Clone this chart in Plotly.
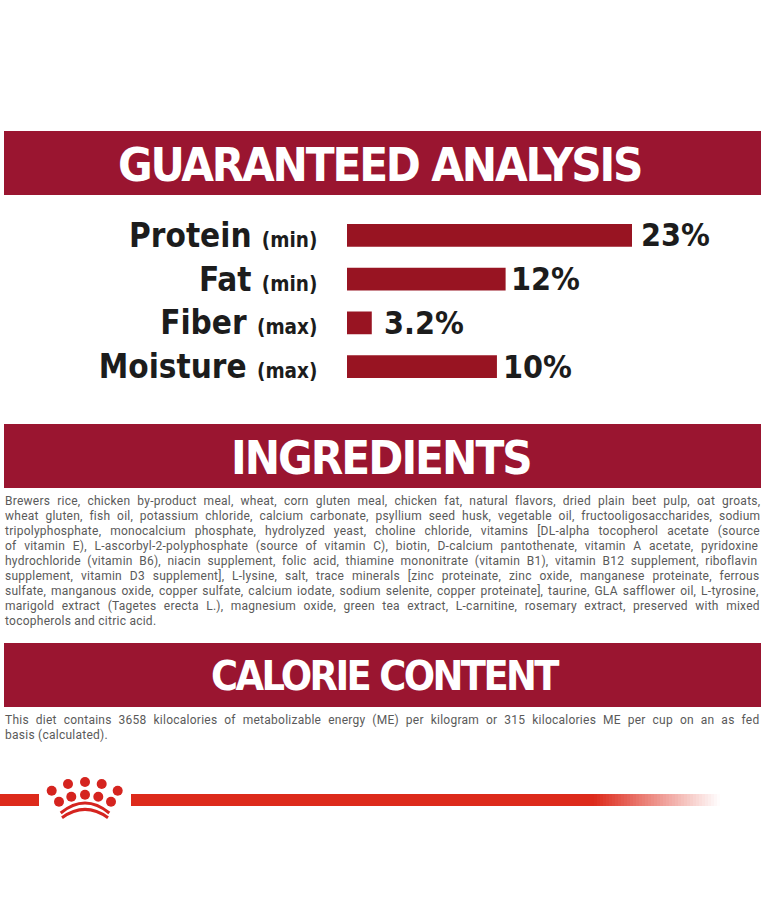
import plotly.graph_objects as go

W, H = 765, 900

# values as printed, and bar lengths as drawn (the artwork is not to scale)
nutrients = ['Protein', 'Fat', 'Fiber', 'Moisture']
limits = ['(min)', '(min)', '(max)', '(max)']
printed = ['23%', '12%', '3.2%', '10%']
bar_lengths = [23, 12.8, 2.0, 12.1]

headers = ['GUARANTEED ANALYSIS', 'INGREDIENTS', 'CALORIE CONTENT']

ingredients = [
    'Brewers rice, chicken by-product meal, wheat, corn gluten meal, chicken fat, natural flavors, dried plain beet pulp, oat groats,',
    'wheat gluten, fish oil, potassium chloride, calcium carbonate, psyllium seed husk, vegetable oil, fructooligosaccharides, sodium',
    'tripolyphosphate, monocalcium phosphate, hydrolyzed yeast, choline chloride, vitamins [DL-alpha tocopherol acetate (source',
    'of vitamin E), L-ascorbyl-2-polyphosphate (source of vitamin C), biotin, D-calcium pantothenate, vitamin A acetate, pyridoxine',
    'hydrochloride (vitamin B6), niacin supplement, folic acid, thiamine mononitrate (vitamin B1), vitamin B12 supplement, riboflavin',
    'supplement, vitamin D3 supplement], L-lysine, salt, trace minerals [zinc proteinate, zinc oxide, manganese proteinate, ferrous',
    'sulfate, manganous oxide, copper sulfate, calcium iodate, sodium selenite, copper proteinate], taurine, GLA safflower oil, L-tyrosine,',
    'marigold extract (Tagetes erecta L.), magnesium oxide, green tea extract, L-carnitine, rosemary extract, preserved with mixed',
    'tocopherols and citric acid.',
]
calories = [
    'This diet contains 3658 kilocalories of metabolizable energy (ME) per kilogram or 315 kilocalories ME per cup on an as fed',
    'basis (calculated).',
]

# extra word spacing (px) so the lines come out justified like the artwork
ingredient_gaps = [3.8, 3.5, 5.7, 4.4, 3.3, 4.6, 1.7, 4.2, 0]
calorie_gaps = [3.7, 0]

# per header: centre x, font size, letter spacing
header_styles = [(379, 47, -2.2), (381, 47, -2.0), (385, 41, -2.6)]
label_shifts = [7, 3, 10, 4]

CRIMSON = '#9a1530'
BAR = '#981422'
LINE = '#dd2a1b'
LOGO = '#d5241f'
INK = '#1c1c1c'
BODY = '#5a5a5a'
HEAD_FONT = 'DejaVu Sans Condensed, Roboto, sans-serif'


def fx(x):
    return x / W


def fy(y):
    return 1 - y / H


def body_line(text, y, gap):
    return dict(text=f'<span style="letter-spacing:0.25px;word-spacing:{gap}px">{text}</span>',
                x=fx(3), y=fy(y), xref='paper', yref='paper', showarrow=False,
                xanchor='left', yanchor='middle', font=dict(family='Roboto', size=12, color=BODY))


fig = go.Figure()
fig.add_trace(go.Bar(
    y=nutrients,
    x=bar_lengths,
    orientation='h',
    marker=dict(color=BAR, line=dict(width=0)),
    width=0.52,
    hoverinfo='skip',
))

shapes = []
annotations = []

# crimson header bands
for top, label, (centre, size, track) in zip([131, 424, 643], headers, header_styles):
    shapes.append(dict(type='rect', xref='paper', yref='paper', x0=fx(4), x1=fx(761),
                       y0=fy(top), y1=fy(top + 64), fillcolor=CRIMSON, line_width=0, layer='below'))
    annotations.append(dict(text=f'<span style="letter-spacing:{track}px">{label}</span>',
                            x=fx(centre), y=fy(top + 33), xref='paper', yref='paper',
                            showarrow=False, xanchor='center', yanchor='middle',
                            font=dict(family=HEAD_FONT, size=size, color='white', weight=700)))

# printed values next to the bars
for name, length, label, shift in zip(nutrients, bar_lengths, printed, label_shifts):
    annotations.append(dict(text=label, x=length, y=name, xref='x', yref='y', xshift=shift,
                            showarrow=False, xanchor='left', yanchor='middle',
                            font=dict(family=HEAD_FONT, size=32, color=INK, weight=700)))

# body copy, one line at a time
for i, (line, gap) in enumerate(zip(ingredients, ingredient_gaps)):
    annotations.append(body_line(line, 501 + i * 15.03, gap))
for i, (line, gap) in enumerate(zip(calories, calorie_gaps)):
    annotations.append(body_line(line, 720 + i * 15, gap))

# red rule with the fade on the right
shapes.append(dict(type='rect', xref='paper', yref='paper', x0=fx(0), x1=fx(39), y0=fy(794), y1=fy(806),
                   fillcolor=LINE, line_width=0))
shapes.append(dict(type='rect', xref='paper', yref='paper', x0=fx(131), x1=fx(594), y0=fy(794), y1=fy(806),
                   fillcolor=LINE, line_width=0))
steps = 42
for s in range(steps):
    shapes.append(dict(type='rect', xref='paper', yref='paper',
                       x0=fx(594 + s * 3), x1=fx(594 + (s + 1) * 3), y0=fy(794), y1=fy(806),
                       fillcolor=LINE, opacity=1 - (s + 0.5) / steps, line_width=0))

# crown logo
dots = [(51.7, 790.7), (68, 784), (85, 782), (101.7, 784), (117.7, 790.7),
        (59, 801.7), (71.3, 796.7), (85, 794.7), (98.3, 796.7), (111, 801.7)]
for cx, cy in dots:
    shapes.append(dict(type='circle', xref='paper', yref='paper', x0=fx(cx - 5), x1=fx(cx + 5),
                       y0=fy(cy - 5), y1=fy(cy + 5), fillcolor=LOGO, line_width=0))
for x0, x1, ctrl, end in [(60.7, 109.3, 793, 813), (62, 108, 801, 817.7)]:
    shapes.append(dict(type='path', xref='paper', yref='paper', line=dict(color=LOGO, width=3),
                       path=f'M {fx(x0)} {fy(end)} Q {fx(85)} {fy(ctrl)} {fx(x1)} {fy(end)}'))

fig.update_layout(
    width=W,
    height=H,
    margin=dict(l=0, r=0, t=0, b=0),
    paper_bgcolor='white',
    plot_bgcolor='white',
    showlegend=False,
    shapes=shapes,
    annotations=annotations,
    xaxis=dict(domain=[fx(347), fx(632)], range=[0, 23], visible=False, fixedrange=True),
    yaxis=dict(
        domain=[fy(388.5), fy(213.5)],
        categoryorder='array',
        categoryarray=nutrients[::-1],
        tickmode='array',
        tickvals=nutrients,
        ticktext=[f'{n} <span style="font-size:20.5px">{m}</span>' for n, m in zip(nutrients, limits)],
        tickfont=dict(family=HEAD_FONT, size=33, color=INK, weight=700),
        ticks='outside',
        ticklen=22,
        tickcolor='rgba(0,0,0,0)',
        showline=False,
        showgrid=False,
        zeroline=False,
        fixedrange=True,
    ),
)

# the page body has an 8px margin by default, drop it so the figure sits at 0,0
fig.write_html('out.html', config={'displayModeBar': False},
               post_script="document.body.style.margin='0';")
